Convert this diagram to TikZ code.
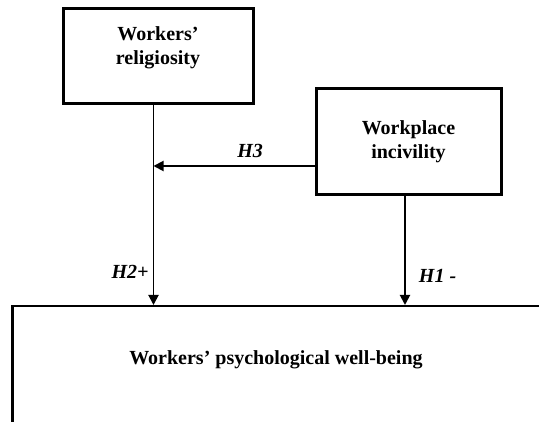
\documentclass[tikz,border=0pt]{standalone}
\usepackage{fontspec}
\setmainfont{Liberation Serif}
\usetikzlibrary{arrows.meta,positioning}
\tikzset{
  varbox/.style={draw, rectangle, line width=3pt, inner sep=0pt},
  vartext/.style={font=\fontsize{20}{24}\selectfont\bfseries, align=center, inner sep=0pt},
  hyp/.style={font=\fontsize{20}{24}\selectfont\bfseries\itshape, inner sep=0pt},
  link/.style={line width=1.9pt, -{Triangle[width=10pt,length=10pt]}}
}
\begin{document}
\begin{tikzpicture}[x=1pt,y=1pt]
\useasboundingbox (0,0) rectangle (539,422);
\clip (0,0) rectangle (539,422);
% variables
\node[varbox, minimum width=190pt, minimum height=95pt] (relig) at (158,365.5) {};
\node[vartext, below=19pt of relig.north] (religtxt) {Workers’\\religiosity};
\node[varbox, vartext, minimum width=185pt, minimum height=106pt] (work) at (408.5,280) {Workplace\\incivility};
\node[varbox, line width=2.5pt, minimum width=534pt, minimum height=137pt, anchor=north west] (wellbeing) at (11,117) {};
\node[vartext] (welltxt) at (276,62) {Workers’ psychological well-being};
% hypotheses
\coordinate (religout) at ([xshift=-4.5pt]relig.south);
\coordinate (workout) at ([xshift=-3.5pt]work.south);
\coordinate (join) at (religout |- 0,256);
\draw[link] (religout) -- (religout |- wellbeing.north) node[hyp, pos=0.836, left=4pt] {H2+};
\draw[link] (workout) -- (workout |- wellbeing.north) node[hyp, pos=0.73, right=13pt] {H1 -};
\draw[link] (work.west |- join) -- (join) node[hyp, pos=0.4, above=7pt] {H3};
\end{tikzpicture}
\end{document}
